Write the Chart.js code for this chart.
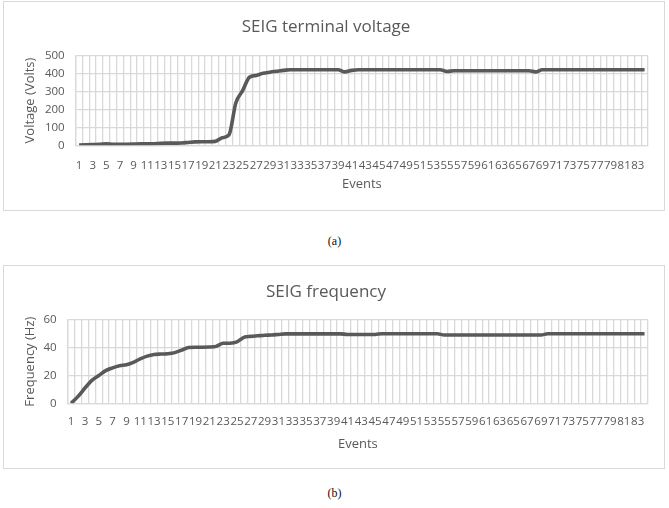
<!DOCTYPE html>
<html>
<head>
<meta charset="utf-8">
<title>SEIG charts</title>
<script src="https://cdn.jsdelivr.net/npm/chart.js@4.4.1/dist/chart.umd.min.js"></script>
<style>
  body { margin: 0; background: #fff; width: 669px; height: 508px; position: relative; overflow: hidden; }
  .box { position: absolute; left: 3px; width: 660px; border: 1px solid #d9d9d9; }
  .box canvas { display: block; }
  .caption { position: absolute; left: 0; width: 669px; text-align: center; font-family: "Liberation Serif", "DejaVu Serif", serif; font-size: 12px; line-height: 14px; color: #111; }
</style>
</head>
<body>
<div class="box" style="top:1px;height:208px"><canvas id="voltage-chart" width="660" height="208"></canvas></div>
<div class="caption" style="top:234px">(a)</div>
<div class="box" style="top:265px;height:202px"><canvas id="frequency-chart" width="660" height="202"></canvas></div>
<div class="caption" style="top:486px">(b)</div>
<script>
// Event numbers on the x axis
const events = [
  '1', '2', '3', '4', '5', '6', '7', '8', '9', '10', '11', '12', '13', '14',
  '15', '16', '17', '18', '19', '20', '21', '22', '23', '24', '25', '26', '27', '28',
  '29', '30', '31', '32', '33', '34', '35', '36', '37', '38', '39', '40', '41', '42',
  '43', '44', '45', '46', '47', '48', '49', '50', '51', '52', '53', '54', '55', '56',
  '57', '58', '59', '60', '61', '62', '63', '64', '65', '66', '67', '68', '69', '70',
  '71', '72', '73', '74', '75', '76', '77', '78', '79', '80', '81', '82', '83', '84'
];

// Terminal voltage (V)
const voltage = [
  2, 3, 4, 5, 8, 5, 5, 6, 7, 8, 8, 9, 11, 12,
  12, 13, 16, 19, 20, 20, 22, 42, 58, 236, 305, 380, 390, 402,
  408, 413, 418, 422, 422, 422, 422, 422, 422, 422, 422, 410, 418, 422,
  422, 422, 422, 422, 422, 422, 422, 422, 422, 422, 422, 422, 412, 416,
  416, 416, 416, 416, 416, 416, 416, 416, 416, 416, 416, 410, 422, 422,
  422, 422, 422, 422, 422, 422, 422, 422, 422, 422, 422, 422, 422, 422
];

// Frequency (Hz)
const frequency = [
  0, 5, 11, 16.5, 20, 23.5, 25.5, 27, 27.8, 29.5, 32, 34, 35.2, 35.5,
  35.7, 36.5, 38.3, 40.2, 40.4, 40.4, 40.5, 41, 43.2, 43.3, 44.2, 47.5, 48.2, 48.6,
  49, 49.2, 49.6, 50, 50, 50, 50, 50, 50, 50, 50, 50, 49.6, 49.6,
  49.6, 49.6, 49.6, 50.1, 50.1, 50.1, 50.1, 50.1, 50.1, 50.1, 50.1, 50.1, 49.2, 49.2,
  49.2, 49.2, 49.2, 49.2, 49.2, 49.2, 49.2, 49.2, 49.2, 49.2, 49.2, 49.2, 49.2, 50.1,
  50.1, 50.1, 50.1, 50.1, 50.1, 50.1, 50.1, 50.1, 50.1, 50.1, 50.1, 50.1, 50.1, 50.1
];

const textColor = '#595959';
const gridColor = '#d9d9d9';
const tickFont = { family: 'Open Sans', size: 11.5 };
const axisTitleFont = { family: 'Open Sans', size: 13 };

function drawChart(canvas, cfg) {
  return new Chart(canvas, {
    type: 'line',
    data: {
      labels: events,
      datasets: [{
        data: cfg.values,
        borderColor: '#595959',
        borderWidth: 3.6,
        pointRadius: 0,
        cubicInterpolationMode: 'monotone',
        fill: false
      }]
    },
    options: {
      responsive: false,
      animation: false,
      devicePixelRatio: 1,
      layout: { padding: cfg.padding },
      plugins: {
        legend: { display: false },
        tooltip: { enabled: false },
        title: {
          display: true,
          text: cfg.title,
          color: textColor,
          font: { family: 'Open Sans', size: 17, weight: 'normal' },
          padding: cfg.titlePadding
        }
      },
      scales: {
        x: {
          offset: true,
          grid: { offset: true, color: gridColor, lineWidth: 1.3, drawTicks: false },
          border: { color: gridColor, width: 1.3 },
          ticks: {
            autoSkip: false,
            maxRotation: 0,
            minRotation: 0,
            padding: cfg.xTickPad,
            color: textColor,
            font: tickFont,
            // only every other event number is printed
            callback: function (value, index) {
              return index % 2 === 0 ? this.getLabelForValue(value) : '';
            }
          },
          title: {
            display: true,
            text: 'Events',
            color: textColor,
            font: axisTitleFont,
            padding: { top: 0, bottom: 0 }
          },
          afterFit: (scale) => { scale.height = cfg.xHeight; }
        },
        y: {
          min: 0,
          max: cfg.max,
          grid: { color: gridColor, lineWidth: 1.3, drawTicks: false },
          border: { color: gridColor, width: 1.3 },
          ticks: { stepSize: cfg.step, autoSkip: false, padding: 11, color: textColor, font: tickFont },
          title: {
            display: true,
            text: cfg.yTitle,
            color: textColor,
            font: axisTitleFont,
            padding: { top: 18.2, bottom: 0 }
          },
          afterFit: (scale) => { scale.width = cfg.yWidth; }
        }
      }
    }
  });
}

drawChart(document.getElementById('voltage-chart'), {
  values: voltage,
  title: 'SEIG terminal voltage',
  yTitle: 'Voltage (Volts)',
  max: 500,
  step: 100,
  yWidth: 71.7,
  xHeight: 46.8,
  padding: { top: 4, left: 0, right: 16, bottom: 17.9 },
  titlePadding: { top: 10.5, bottom: 18.8 },
  xTickPad: 13.1
});

drawChart(document.getElementById('frequency-chart'), {
  values: frequency,
  title: 'SEIG frequency',
  yTitle: 'Frequency (Hz)',
  max: 60,
  step: 20,
  yWidth: 63.7,
  xHeight: 48.7,
  padding: { top: 5, left: 0, right: 16, bottom: 16 },
  titlePadding: { top: 10.5, bottom: 18.1 },
  xTickPad: 11.3
});
</script>
</body>
</html>
